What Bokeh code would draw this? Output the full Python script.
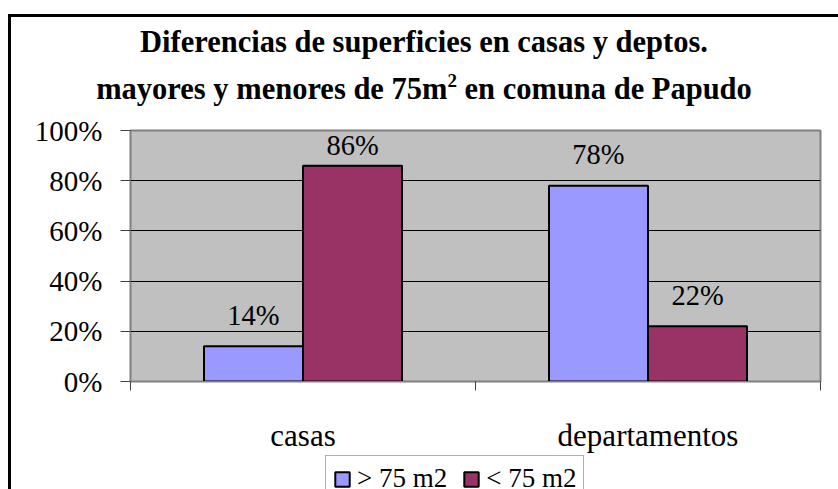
from bokeh.plotting import figure
from bokeh.layouts import column
from bokeh.models import (Range1d, FixedTicker, NumeralTickFormatter, ColumnDataSource,
                          Legend, LegendItem, InlineStyleSheet, Div)
from bokeh.transform import dodge
from bokeh.core.properties import value
from bokeh.embed import file_html
from bokeh.resources import INLINE

# ---- data ----
categories = ["casas", "departamentos"]
series_names = ["> 75 m2", "< 75 m2"]
mayores = [0.14, 0.78]
menores = [0.86, 0.22]
y_ticks = [0, 0.2, 0.4, 0.6, 0.8, 1.0]
title_1 = "Diferencias de superficies en casas y deptos."
title_2a = "mayores y menores de 75m"
title_2sup = "2"
title_2b = " en comuna de Papudo"

FONT = "Liberation Serif"
BLUE = "#9999FF"
MAROON = "#993366"

W = 838
HEAD_H = 110
FT, FRAME_H, FB = 20, 251, 74
CH_H = FT + FRAME_H + FB
FOOT_H = 489 - HEAD_H - CH_H

# ---------- title strip ----------
line_css = ("position:absolute; left:0; width:848px; text-align:center; white-space:nowrap; "
            "line-height:30px; height:30px;")
head_html = (
    f'<div style="position:relative; width:{W}px; height:{HEAD_H}px; font-family:\'{FONT}\'; '
    f'font-weight:bold; font-size:30.5px; color:black;">'
    f'<div style="{line_css} top:27px;">{title_1}</div>'
    f'<div style="{line_css} top:74px;">{title_2a}'
    f'<span style="font-size:19px; position:relative; top:-12px;">{title_2sup}</span>'
    f'{title_2b}</div></div>'
)
head = Div(text=head_html, width=W, height=HEAD_H, margin=0)

# ---------- chart ----------
n = len(categories)
centers = [i + 0.5 for i in range(n)]

chart = figure(width=W, height=CH_H, x_range=Range1d(0, n), y_range=Range1d(0, 1),
               output_backend="svg", toolbar_location=None, title=None,
               min_border_left=130, min_border_right=18,
               min_border_top=FT, min_border_bottom=FB)
chart.background_fill_color = "#C0C0C0"
chart.border_fill_color = "white"
chart.outline_line_color = "#808080"
chart.outline_line_width = 2

ya = chart.yaxis[0]
ya.ticker = FixedTicker(ticks=y_ticks)
ya.formatter = NumeralTickFormatter(format="0%")
ya.major_label_text_font = FONT
ya.major_label_text_font_size = "29px"
ya.major_label_text_color = "black"
ya.major_tick_out = 10
ya.major_tick_in = 0
ya.major_tick_line_color = "#404040"
ya.minor_tick_line_color = None
ya.axis_line_color = "#808080"
ya.major_label_standoff = 18

chart.xgrid.visible = False
chart.ygrid.ticker = FixedTicker(ticks=y_ticks[1:-1])
chart.ygrid.grid_line_color = "black"
chart.ygrid.grid_line_width = 1

xa = chart.xaxis[0]
xa.ticker = FixedTicker(ticks=centers, minor_ticks=list(range(n + 1)))
xa.major_label_overrides = {c: cat for c, cat in zip(centers, categories)}
xa.major_tick_line_color = None
xa.major_tick_out = 9
xa.major_tick_in = 0
xa.minor_tick_out = 9
xa.minor_tick_in = 0
xa.minor_tick_line_color = "#404040"
xa.axis_line_color = "#808080"
xa.major_label_text_font = FONT
xa.major_label_text_font_size = "31px"
xa.major_label_text_color = "black"
xa.major_label_standoff = 27

off = 0.1435
bw = 0.287
src = ColumnDataSource(dict(xc=centers, mayores=mayores, menores=menores,
                            lab_may=[f"{round(v*100)}%" for v in mayores],
                            lab_men=[f"{round(v*100)}%" for v in menores]))
bar_styles = [dict(fill_color=BLUE, line_color="black", line_width=2),
              dict(fill_color=MAROON, line_color="black", line_width=2)]
chart.vbar(x=dodge("xc", -off), top="mayores", width=bw, source=src, **bar_styles[0])
chart.vbar(x=dodge("xc", off), top="menores", width=bw, source=src, **bar_styles[1])

px_per_unit = float(FRAME_H)
src.data["ly_may"] = [min(v + 31 / px_per_unit, 1 - 15 / px_per_unit) for v in mayores]
src.data["ly_men"] = [min(v + 31 / px_per_unit, 1 - 15 / px_per_unit) for v in menores]
for xo, ycol, tcol in [(-off, "ly_may", "lab_may"), (off, "ly_men", "lab_men")]:
    chart.text(x=dodge("xc", xo), y=ycol, text=tcol, source=src,
               text_font=value(FONT), text_font_size="28.5px", text_color="black",
               text_align="center", text_baseline="alphabetic")

# ---------- legend strip ----------
foot = figure(width=W, height=FOOT_H, x_range=Range1d(0, 1), y_range=Range1d(0, 1),
              output_backend="svg", toolbar_location=None, title=None,
              x_axis_location=None, y_axis_location=None,
              min_border_left=130, min_border_right=18, min_border_top=0, min_border_bottom=0)
foot.grid.visible = False
foot.outline_line_color = None
foot.background_fill_color = "white"
foot.border_fill_color = "white"
# legend swatches (kept outside the visible range of this strip)
proxies = [foot.vbar(x=[0.5], top=[-10], bottom=[-11], width=0.1, **st) for st in bar_styles]
leg = Legend(items=[LegendItem(label=nm, renderers=[r]) for nm, r in zip(series_names, proxies)],
             orientation="horizontal", location=(195, FOOT_H - 47),
             label_text_font=FONT, label_text_font_size="27px", label_text_color="black",
             glyph_width=18, glyph_height=18, label_standoff=6, spacing=15,
             padding=7, margin=0, border_line_color="#606060", border_line_width=1,
             background_fill_color="white", background_fill_alpha=1)
foot.add_layout(leg, "center")

frame_css = InlineStyleSheet(css="""
:host { position: relative; }
:host::after { content: ""; position: absolute; left: 8px; top: 14px; right: 0; bottom: 0;
  border-left: 3px solid black; border-top: 3px solid black; pointer-events: none; z-index: 10; }
""")
p = column(head, chart, foot, spacing=0, stylesheets=[frame_css])

open("out.html", "w").write(file_html(p, INLINE))
